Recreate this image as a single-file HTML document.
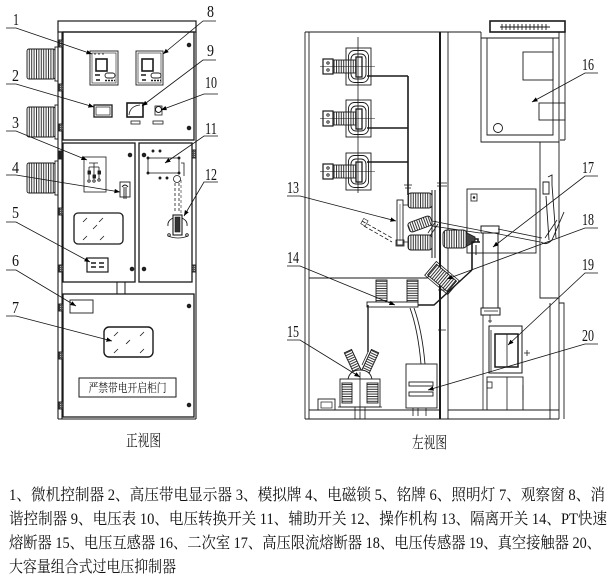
<!DOCTYPE html>
<html><head><meta charset="utf-8">
<style>
html,body{margin:0;padding:0;background:#fff;}
svg{display:block;}
.n{font-family:"Liberation Serif",serif;font-size:17px;fill:#111;}
.c{font-family:"Liberation Serif","Noto Serif CJK SC","Noto Sans CJK SC",serif;fill:#111;}
</style></head>
<body>
<svg width="614" height="577" viewBox="0 0 614 577" xmlns="http://www.w3.org/2000/svg">
<defs>
<pattern id="vr" patternUnits="userSpaceOnUse" width="2.4" height="4"><rect width="2.4" height="4" fill="#fff"/><rect width="1" height="4" fill="#333"/></pattern>
<pattern id="hr" patternUnits="userSpaceOnUse" width="4" height="2.4"><rect width="4" height="2.4" fill="#fff"/><rect width="4" height="1" fill="#333"/></pattern>
<pattern id="dk" patternUnits="userSpaceOnUse" width="2" height="2"><rect width="2" height="2" fill="#555"/><rect width="1" height="1" fill="#bbb"/></pattern>
<marker id="a" viewBox="0 0 10 10" refX="10" refY="5" markerWidth="7" markerHeight="7" orient="auto"><path d="M0,1 L10,5 L0,9z" fill="#000"/></marker>
</defs>

<!-- ================= FRONT VIEW ================= -->
<g stroke="#1a1a1a" fill="none" stroke-width="0.9">
  <g>
    <rect x="27" y="49" width="28" height="30" rx="2" fill="url(#vr)"/>
    <rect x="55" y="47" width="3" height="34" fill="#fff"/>
    <rect x="27" y="107" width="28" height="30" rx="2" fill="url(#vr)"/>
    <rect x="55" y="105" width="3" height="34" fill="#fff"/>
    <rect x="27" y="163" width="28" height="30" rx="2" fill="url(#vr)"/>
    <rect x="55" y="161" width="3" height="34" fill="#fff"/>
  </g>
  <rect x="58" y="21" width="138" height="11" stroke-width="1.2"/>
  <path d="M58 32 V419 M62 32 V419 M196 32 V419 M58 419 H196" stroke-width="1.1"/>
  <g fill="url(#dk)">
    <rect x="59" y="40" width="4" height="7"/>
    <rect x="59" y="84" width="4" height="7"/>
    <rect x="59" y="124" width="4" height="7"/>
    <rect x="59" y="151" width="4" height="8" fill="#222"/>
    <rect x="59" y="208" width="4" height="7"/>
    <rect x="59" y="265" width="4" height="7"/>
    <rect x="59" y="304" width="4" height="7"/>
    <rect x="59" y="352" width="4" height="7"/>
    <rect x="59" y="402" width="4" height="7"/>
    <rect x="192" y="150" width="4" height="8"/>
    <rect x="192" y="265" width="4" height="7"/>
  </g>
  <rect x="63" y="32" width="131" height="108" stroke-width="1.3"/>
  <rect x="90" y="51" width="28" height="34"/>
  <rect x="92" y="53" width="24" height="30" stroke-width="0.6"/>
  <rect x="96" y="59" width="11" height="12" stroke-width="1.6"/>
  <path d="M95 75 h5 M96 80 h4" stroke-width="1.5"/>
  <rect x="105" y="73" width="10" height="5" rx="2.5"/>
  <path d="M105 80.5 h10" stroke-width="1.6" stroke-dasharray="2 1"/>
  <path d="M94 54 h2 M98 54 h2 M102 54 h2" stroke-width="0.7"/>
  <rect x="136" y="51" width="27" height="34"/>
  <rect x="138" y="53" width="23" height="30" stroke-width="0.6"/>
  <rect x="142" y="59" width="11" height="12" stroke-width="1.6"/>
  <path d="M141 75 h5 M142 80 h4" stroke-width="1.5"/>
  <rect x="151" y="73" width="10" height="5" rx="2.5"/>
  <path d="M151 80.5 h10" stroke-width="1.6" stroke-dasharray="2 1"/>
  <rect x="94" y="105" width="18" height="12" stroke-width="1.3"/>
  <rect x="96" y="107" width="14" height="8" stroke-width="0.7"/>
  <rect x="127" y="103" width="16" height="14" stroke-width="1.6"/>
  <path d="M129 115 Q130 106 140 105" stroke-width="0.8"/>
  <rect x="131" y="121" width="9" height="3" stroke-width="0.8"/>
  <rect x="155" y="106" width="7" height="9" stroke-width="0.8"/>
  <circle cx="158.5" cy="109.5" r="3" stroke-width="0.9"/>
  <rect x="153" y="121" width="10" height="3" stroke-width="0.8"/>
  <g fill="#222"><circle cx="189" cy="45" r="1.8"/><circle cx="189" cy="128" r="1.8"/>
  <circle cx="130" cy="155" r="1.8"/><circle cx="132" cy="269" r="1.8"/>
  <circle cx="144" cy="155" r="1.8"/><circle cx="144" cy="269" r="1.8"/>
  <circle cx="189" cy="306" r="1.8"/><circle cx="189" cy="405" r="1.8"/></g>

  <rect x="63" y="143" width="72" height="139" stroke-width="1.3"/>
  <rect x="84" y="157" width="22" height="35" stroke-width="0.8"/>
  <path d="M89 163 h9 M94 163 v4 M89 167 h10 M89 167 v12 M94 167 v12 M99 167 v12" stroke-width="0.8"/>
  <rect x="88" y="171" width="2.5" height="3" fill="#222"/><rect x="93" y="175" width="2.5" height="3" fill="#222"/><rect x="98" y="171" width="2.5" height="3" fill="#222"/>
  <circle cx="89" cy="181" r="1.2"/><circle cx="94" cy="181" r="1.2"/><circle cx="99" cy="180" r="1.2"/>
  <rect x="120" y="182" width="10" height="15" stroke-width="0.9"/>
  <path d="M122 187 Q125 183 128 187 M124 187 v12 M126 187 v12" stroke-width="0.9"/>
  <rect x="74" y="213" width="49" height="31" rx="4" stroke-width="1.3"/>
  <path d="M83 222 l4 -4 M99 222 l4 -4 M93 229 l4 -4 M83 240 l4 -4 M100 240 l4 -4" stroke-width="0.8"/>
  <rect x="87" y="258" width="21" height="14" stroke-width="1.2"/>
  <path d="M91 263 h5 M99 263 h5 M91 267 h5 M99 267 h5" stroke-width="1.5"/>

  <rect x="139" y="143" width="53" height="139" stroke-width="1.3"/>
  <rect x="148" y="158" width="31" height="15" stroke-width="0.8"/>
  <g fill="#222"><circle cx="153" cy="151" r="1"/><circle cx="160" cy="151" r="1"/><circle cx="160" cy="178" r="1"/><circle cx="167" cy="178" r="1"/>
  <circle cx="148" cy="158" r="1"/><circle cx="179" cy="158" r="1"/><circle cx="148" cy="173" r="1"/><circle cx="179" cy="173" r="1"/></g>
  <path d="M181 163 h3 v13" stroke-width="0.8"/>
  <circle cx="177" cy="179" r="3.5" stroke-width="0.8"/>
  <path d="M175 183 V212 M179 183 V212" stroke-width="0.8" stroke-dasharray="3 2"/>
  <path d="M181 180 V215" stroke-width="0.6" stroke-dasharray="3 2"/>
  <rect x="173" y="215" width="9" height="20" stroke-width="1.1"/>
  <rect x="175" y="217" width="5" height="15" fill="#333" stroke-width="0.6"/>
  <path d="M173 218 q-6 3 -5 8 M182 218 q6 3 5 8 M168 236 q10 4 20 0" stroke-width="0.8"/>
  <circle cx="169" cy="235" r="1.3"/><circle cx="187" cy="235" r="1.3"/>

  <rect x="117" y="282" width="8" height="12" stroke-width="1"/>

  <rect x="63" y="294" width="131" height="123" stroke-width="1.3"/>
  <rect x="70" y="300" width="23" height="13" stroke-width="0.9"/>
  <rect x="104" y="327" width="49" height="30" rx="5" stroke-width="1.4"/>
  <path d="M114 336 l4 -4 M140 336 l4 -4 M126 344 l4 -4 M114 353 l4 -4 M140 353 l4 -4" stroke-width="0.8"/>
  <rect x="79" y="378" width="97" height="19" stroke-width="1"/>
</g>
<text class="c" x="127.5" y="392" font-size="12" text-anchor="middle" textLength="78" lengthAdjust="spacingAndGlyphs">严禁带电开启柜门</text>
<text class="c" x="126" y="446" font-size="16" textLength="35" lengthAdjust="spacingAndGlyphs">正视图</text>

<g stroke="#111" stroke-width="0.8" fill="none" marker-end="url(#a)">
  <path d="M6 28 L16 28 L92 54"/>
  <path d="M6 84 L16 84 L94 107"/>
  <path d="M6 131 L16 131 L87 160"/>
  <path d="M6 175 L16 175 L120 192"/>
  <path d="M6 222 L16 222 L90 262"/>
  <path d="M6 270 L16 270 L76 306"/>
  <path d="M6 316 L16 316 L112 341"/>
  <path d="M216 21 L203 21 L163 54"/>
  <path d="M216 60 L203 60 L142 106"/>
  <path d="M218 94 L204 94 L161 110"/>
  <path d="M218 136 L204 136 L165 163"/>
  <path d="M218 182 L204 182 L184 216"/>
</g>
<g class="n">
  <text x="13" y="25" textLength="6" lengthAdjust="spacingAndGlyphs">1</text>
  <text x="12" y="81" textLength="7" lengthAdjust="spacingAndGlyphs">2</text>
  <text x="12" y="128" textLength="7" lengthAdjust="spacingAndGlyphs">3</text>
  <text x="12" y="173" textLength="7" lengthAdjust="spacingAndGlyphs">4</text>
  <text x="12" y="218" textLength="7" lengthAdjust="spacingAndGlyphs">5</text>
  <text x="12" y="266" textLength="7" lengthAdjust="spacingAndGlyphs">6</text>
  <text x="12" y="313" textLength="7" lengthAdjust="spacingAndGlyphs">7</text>
  <text x="207" y="17" textLength="7" lengthAdjust="spacingAndGlyphs">8</text>
  <text x="207" y="56" textLength="7" lengthAdjust="spacingAndGlyphs">9</text>
  <text x="205" y="88" textLength="12" lengthAdjust="spacingAndGlyphs">10</text>
  <text x="205" y="134" textLength="12" lengthAdjust="spacingAndGlyphs">11</text>
  <text x="205" y="180" textLength="12" lengthAdjust="spacingAndGlyphs">12</text>
</g>

<!-- ================= SIDE VIEW ================= -->
<g stroke="#1a1a1a" fill="none" stroke-width="0.9">
  <path d="M305 32 V419 M309 32 V419 M305 32 H440 M305 419 H559 M309 410 H439 M448 410 H559"/>
  <path d="M440 32 V419" stroke-width="2"/>
  <path d="M448 32 V419"/>
  <path d="M440 32 H481"/>
  <rect x="490" y="21" width="75" height="11" stroke-width="1.6"/>
  <path d="M500 27 H550 M502 24 v6 M506 24 v6 M510 24 v6 M514 24 v6 M518 24 v6 M522 24 v6 M526 24 v6 M530 24 v6 M534 24 v6 M538 24 v6 M542 24 v6 M546 24 v6" stroke-width="0.9"/>
  <path d="M481 32 V142 H559 M481 38 H559 M487 38 V135 H553 V38 M559 32 V419 M565 32 V140 M560 140 H565"/>
  <rect x="523" y="52" width="30" height="28"/>
  <rect x="539" y="103" width="26" height="17"/>
  <circle cx="498" cy="128" r="4.5"/>
  <path d="M540 142 V298 H559 M550 303 V419 M559 303 H564 V419"/>
  <path d="M543 182 h6 v12 h-6z M548 177 l4 -2 v10 M552 185 L556 238 M546 196 L549 240 M541 242 Q546 246 552 240 L564 212" stroke-width="0.9"/>
  <path d="M545 238 l12 -18" stroke-width="0.8"/>
  <rect x="467" y="189" width="69" height="64"/>
  <rect x="471" y="194" width="6" height="7" stroke-width="0.8"/>
  <circle cx="474" cy="197.5" r="0.8" fill="#111"/>
  <path d="M432 221 L540 242 M432 226 L480 233 M498 229 L542 238" stroke-width="0.8"/>
  <rect x="481" y="226" width="18" height="7" stroke-width="1"/>
  <path d="M483 233 V308 M498 233 V308" stroke-width="1"/>
  <rect x="481" y="308" width="19" height="7" stroke-width="1"/>
  <path d="M484 311 h14 M490 315 v8 M488 321 h4" stroke-width="0.8"/>
  <path d="M483 315 V410" stroke-width="0.8"/>
  <rect x="489" y="326" width="33" height="47" stroke-width="1"/>
  <rect x="495" y="334" width="23" height="33" stroke-width="1.5"/>
  <path d="M507 334 V367 M491 330 V372" stroke-width="0.8"/>
  <path d="M524 353 h6 M527 350 v6" stroke-width="0.8"/>
  <rect x="487" y="377" width="36" height="33"/>
  <path d="M507 377 V410 M485 410 H525 M523 385 v15" stroke-width="0.8"/>
  <rect x="487" y="382" width="5" height="6" stroke-width="0.8"/>

  <g>
    <rect x="346" y="48" width="25" height="37"/>
    <rect x="348.5" y="50.5" width="20" height="32" rx="6"/>
    <rect x="351" y="54" width="15" height="25" rx="5"/>
    <rect x="333" y="60" width="24" height="13" fill="url(#vr)"/>
    <rect x="323" y="59" width="10" height="15" stroke-width="1.2"/>
    <rect x="356" y="57" width="6" height="20" fill="#fff" stroke-width="1.3"/>
    <circle cx="328" cy="63" r="1.2"/><circle cx="328" cy="70" r="1.2"/>

    <rect x="346" y="100" width="25" height="37"/>
    <rect x="348.5" y="102.5" width="20" height="32" rx="6"/>
    <rect x="351" y="106" width="15" height="25" rx="5"/>
    <rect x="333" y="112" width="24" height="13" fill="url(#vr)"/>
    <rect x="323" y="111" width="10" height="15" stroke-width="1.2"/>
    <rect x="356" y="109" width="6" height="20" fill="#fff" stroke-width="1.3"/>
    <circle cx="328" cy="115" r="1.2"/><circle cx="328" cy="122" r="1.2"/>

    <rect x="346" y="153" width="25" height="37"/>
    <rect x="348.5" y="155.5" width="20" height="32" rx="6"/>
    <rect x="351" y="159" width="15" height="25" rx="5"/>
    <rect x="333" y="165" width="24" height="13" fill="url(#vr)"/>
    <rect x="323" y="164" width="10" height="15" stroke-width="1.2"/>
    <rect x="356" y="162" width="6" height="20" fill="#fff" stroke-width="1.3"/>
    <circle cx="328" cy="168" r="1.2"/><circle cx="328" cy="175" r="1.2"/>
  </g>
  <path d="M358 37 V193" stroke-width="0.8"/>
  <path d="M320 66.5 H375 M320 118.5 H375 M320 171.5 H375" stroke-width="0.6"/>
  <path d="M367 76 H408 M367 128 H408 M367 162 H408 M408 76 V195" stroke-width="1.6"/>
  <path d="M404 185 h8 M405 188 h6 M437 183 h10 M437 186 h10 M438 290 h8 M438 330 h8" stroke-width="0.8"/>

  <rect x="397" y="200" width="6" height="45" fill="#fff"/>
  <path d="M400 204 V241" stroke-width="0.5"/>
  <rect x="396" y="240" width="8" height="6" stroke-width="0.8"/>
  <rect x="408" y="193" width="24" height="15" rx="3" fill="url(#vr)"/>
  <rect x="408" y="235" width="24" height="15" rx="3" fill="url(#vr)"/>
  <g transform="rotate(-20 420 224)"><rect x="408" y="219" width="24" height="10" rx="3" fill="url(#vr)"/></g>
  <path d="M432 190 V258 M435 190 V258" stroke-width="1"/>
  <path d="M403 205 H408 M403 242 H408 M428 233 l8 -12 M430 236 l8 -12" stroke-width="0.8"/>
  <path d="M362 221 L392 238 M364 226 L392 242" stroke-width="0.8" stroke-dasharray="4 2"/>
  <rect x="362" y="219" width="5" height="6" stroke-width="0.6" transform="rotate(30 364 222)"/>
  <rect x="443" y="230" width="24" height="18" rx="4" fill="url(#vr)"/>
  <path d="M467 233 L475 237 V242 L467 246" fill="#444"/>
  <path d="M475 239 H478 V242" stroke-width="1.6"/>
  <path d="M472 270 V242 H480" stroke-width="1.6"/>
  <path d="M476 245 v10" stroke-width="1"/>

  <path d="M309 278 H427 L438 267"/>
  <rect x="376" y="280" width="11" height="22" fill="url(#hr)"/>
  <rect x="407" y="280" width="11" height="22" fill="url(#hr)"/>
  <rect x="367" y="302" width="51" height="5" fill="#fff"/>
  <path d="M368 305 V352" stroke-width="1.4"/>
  <path d="M418 305 H434 L472 270" stroke-width="1.4"/>
  <path d="M410 308 Q418 330 421 364 M414 308 Q422 330 425 364" stroke-width="0.9"/>
  <g transform="rotate(40 442 278)">
    <rect x="429" y="271" width="26" height="14" fill="url(#vr)"/>
    <rect x="427" y="269" width="30" height="18" stroke-width="0.8"/>
  </g>
  <g transform="rotate(-25 353 362)"><rect x="349" y="350" width="8" height="24" fill="url(#hr)"/></g>
  <g transform="rotate(25 370 362)"><rect x="366" y="350" width="8" height="24" fill="url(#hr)"/></g>
  <path d="M348 379 Q350 370 360 370 Q370 370 372 379" fill="#fff"/>
  <rect x="340" y="379" width="40" height="28"/>
  <rect x="342" y="383" width="10" height="20" fill="url(#hr)"/>
  <rect x="367" y="383" width="11" height="20" fill="url(#hr)"/>
  <path d="M360 372 V407 M338 407 H382 M355 407 V419 M360 407 V419 M365 407 V419" stroke-width="0.8"/>
  <path d="M368 352 L362 365" stroke-width="0.8"/>
  <rect x="318" y="399" width="17" height="11"/>
  <rect x="321" y="402" width="11" height="6" stroke-width="0.7"/>
  <rect x="406" y="364" width="31" height="44"/>
  <rect x="409" y="382" width="24" height="4" stroke-width="0.9"/>
  <rect x="409" y="392" width="24" height="4" stroke-width="0.9"/>
  <path d="M413 408 v8 M418 408 v8 M426 408 v8" stroke-width="0.8"/>
</g>
<text class="c" x="412" y="448" font-size="16" textLength="35" lengthAdjust="spacingAndGlyphs">左视图</text>

<g stroke="#111" stroke-width="0.8" fill="none" marker-end="url(#a)">
  <path d="M287 196 L300 196 L396 221"/>
  <path d="M287 266 L300 266 L395 305"/>
  <path d="M287 340 L300 340 L360 377"/>
  <path d="M598 73 L585 73 L532 102"/>
  <path d="M598 176 L585 176 L493 247"/>
  <path d="M598 228 L585 228 L447 279"/>
  <path d="M598 273 L585 273 L508 345"/>
  <path d="M598 344 L585 344 L428 390"/>
</g>
<g class="n">
  <text x="287" y="193" textLength="12" lengthAdjust="spacingAndGlyphs">13</text>
  <text x="287" y="263" textLength="12" lengthAdjust="spacingAndGlyphs">14</text>
  <text x="287" y="337" textLength="12" lengthAdjust="spacingAndGlyphs">15</text>
  <text x="582" y="70" textLength="12" lengthAdjust="spacingAndGlyphs">16</text>
  <text x="582" y="173" textLength="12" lengthAdjust="spacingAndGlyphs">17</text>
  <text x="582" y="225" textLength="12" lengthAdjust="spacingAndGlyphs">18</text>
  <text x="582" y="270" textLength="12" lengthAdjust="spacingAndGlyphs">19</text>
  <text x="582" y="341" textLength="12" lengthAdjust="spacingAndGlyphs">20</text>
</g>

<!-- ================= LEGEND ================= -->
<g class="c" font-size="16">
  <text x="9" y="500" textLength="596" lengthAdjust="spacingAndGlyphs">1、微机控制器 2、高压带电显示器 3、模拟牌 4、电磁锁 5、铭牌 6、照明灯 7、观察窗  8、消</text>
  <text x="9" y="524" textLength="598" lengthAdjust="spacingAndGlyphs">谐控制器  9、电压表 10、电压转换开关 11、辅助开关 12、操作机构 13、隔离开关 14、PT快速</text>
  <text x="9" y="548" textLength="592" lengthAdjust="spacingAndGlyphs">熔断器 15、电压互感器 16、二次室 17、高压限流熔断器 18、电压传感器 19、真空接触器 20、</text>
  <text x="9" y="572" textLength="167" lengthAdjust="spacingAndGlyphs">大容量组合式过电压抑制器</text>
</g>
</svg>
</body></html>
